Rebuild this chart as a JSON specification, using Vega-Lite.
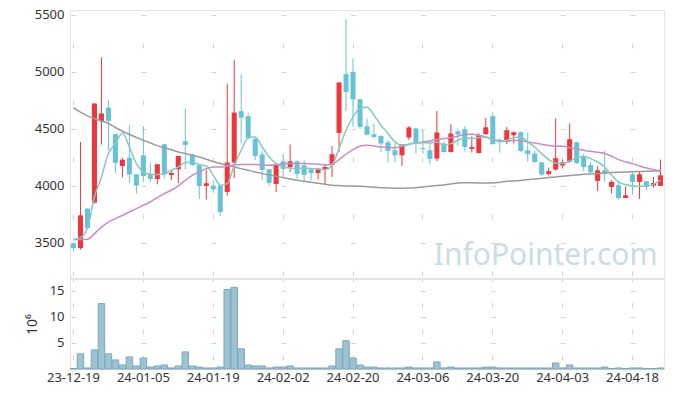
{
  "$schema": "https://vega.github.io/schema/vega-lite/v6.json",
  "background": "white",
  "padding": {"left": 24, "top": 8, "right": 5, "bottom": 5},
  "spacing": -3,
  "config": {
    "font": "Noto Sans",
    "view": {"stroke": "#e3e3e3"},
    "axis": {"labelFont": "Noto Sans", "labelFontSize": 13, "labelColor": "#333333", "titleFont": "Noto Sans", "gridColor": "#d4d4d4", "gridWidth": 1},
    "axisY": {"ticks": false, "domain": false, "labelPadding": 6, "grid": true, "gridDash": [5, 64.88], "gridDashOffset": 68.89, "format": "d"}
  },
  "datasets": {
    "k": [
      {"d":"23-12-19","o":3493,"h":3500,"l":3423,"c":3450,"v":0.1,"m5":3527,"m20":3525,"m60":4685},
      {"d":"23-12-20","o":3452,"h":4383,"l":3438,"c":3739,"v":2.9,"m5":3543,"m20":3527,"m60":4644},
      {"d":"23-12-21","o":3798,"h":3800,"l":3620,"c":3627,"v":0.2,"m5":3627,"m20":3530,"m60":4612},
      {"d":"23-12-22","o":3851,"h":4725,"l":3845,"c":4720,"v":3.65,"m5":3900,"m20":3578,"m60":4589},
      {"d":"23-12-26","o":4565,"h":5125,"l":4360,"c":4633,"v":12.5,"m5":4076,"m20":3636,"m60":4568},
      {"d":"23-12-27","o":4685,"h":4750,"l":4310,"c":4568,"v":2.9,"m5":4281,"m20":3680,"m60":4545},
      {"d":"23-12-28","o":4451,"h":4455,"l":4111,"c":4199,"v":1.73,"m5":4369,"m20":3710,"m60":4510},
      {"d":"24-01-02","o":4172,"h":4240,"l":4070,"c":4228,"v":0.77,"m5":4462,"m20":3739,"m60":4477},
      {"d":"24-01-03","o":4246,"h":4527,"l":4023,"c":4097,"v":2.3,"m5":4339,"m20":3768,"m60":4448},
      {"d":"24-01-04","o":4099,"h":4100,"l":3930,"c":4000,"v":0.58,"m5":4193,"m20":3798,"m60":4422},
      {"d":"24-01-05","o":4266,"h":4521,"l":4032,"c":4084,"v":2.1,"m5":4120,"m20":3827,"m60":4398},
      {"d":"24-01-08","o":4099,"h":4202,"l":4032,"c":4058,"v":0.38,"m5":4099,"m20":3856,"m60":4374},
      {"d":"24-01-09","o":4058,"h":4190,"l":4011,"c":4187,"v":0.58,"m5":4097,"m20":3895,"m60":4351},
      {"d":"24-01-10","o":4363,"h":4365,"l":4062,"c":4097,"v":0.77,"m5":4105,"m20":3930,"m60":4333},
      {"d":"24-01-11","o":4093,"h":4141,"l":4047,"c":4111,"v":0.2,"m5":4134,"m20":3959,"m60":4316},
      {"d":"24-01-12","o":4143,"h":4262,"l":4023,"c":4260,"v":0.58,"m5":4163,"m20":3997,"m60":4295},
      {"d":"24-01-15","o":4389,"h":4677,"l":4141,"c":4357,"v":3.27,"m5":4202,"m20":4047,"m60":4281},
      {"d":"24-01-16","o":4272,"h":4285,"l":4170,"c":4181,"v":0.58,"m5":4202,"m20":4090,"m60":4266},
      {"d":"24-01-17","o":4178,"h":4190,"l":3882,"c":3997,"v":0.38,"m5":4185,"m20":4120,"m60":4251},
      {"d":"24-01-18","o":3997,"h":4141,"l":3877,"c":4020,"v":0.2,"m5":4172,"m20":4149,"m60":4231},
      {"d":"24-01-19","o":4000,"h":4047,"l":3936,"c":3967,"v":0.2,"m5":4090,"m20":4163,"m60":4211},
      {"d":"24-01-22","o":4000,"h":4000,"l":3730,"c":3768,"v":0.38,"m5":4003,"m20":4163,"m60":4193},
      {"d":"24-01-23","o":3944,"h":4895,"l":3912,"c":4202,"v":15.2,"m5":4017,"m20":4172,"m60":4178},
      {"d":"24-01-24","o":4202,"h":5101,"l":4067,"c":4641,"v":15.6,"m5":4178,"m20":4181,"m60":4163},
      {"d":"24-01-25","o":4653,"h":4978,"l":4369,"c":4597,"v":3.85,"m5":4310,"m20":4185,"m60":4149},
      {"d":"24-01-26","o":4609,"h":4640,"l":4410,"c":4418,"v":0.77,"m5":4418,"m20":4185,"m60":4134},
      {"d":"24-01-29","o":4409,"h":4420,"l":4222,"c":4260,"v":0.58,"m5":4427,"m20":4185,"m60":4120},
      {"d":"24-01-30","o":4275,"h":4304,"l":4053,"c":4137,"v":0.58,"m5":4339,"m20":4181,"m60":4105},
      {"d":"24-01-31","o":4143,"h":4145,"l":4000,"c":4023,"v":0.2,"m5":4251,"m20":4178,"m60":4093},
      {"d":"24-02-01","o":4014,"h":4190,"l":3944,"c":4187,"v":0.38,"m5":4193,"m20":4185,"m60":4082},
      {"d":"24-02-02","o":4213,"h":4281,"l":4067,"c":4146,"v":0.38,"m5":4163,"m20":4193,"m60":4070},
      {"d":"24-02-05","o":4163,"h":4360,"l":4120,"c":4213,"v":0.58,"m5":4155,"m20":4193,"m60":4058},
      {"d":"24-02-06","o":4213,"h":4222,"l":4062,"c":4102,"v":0.2,"m5":4149,"m20":4193,"m60":4047},
      {"d":"24-02-07","o":4178,"h":4222,"l":4038,"c":4093,"v":0.2,"m5":4155,"m20":4193,"m60":4038},
      {"d":"24-02-08","o":4143,"h":4143,"l":4047,"c":4111,"v":0.2,"m5":4149,"m20":4190,"m60":4029},
      {"d":"24-02-13","o":4111,"h":4155,"l":4053,"c":4149,"v":0.2,"m5":4143,"m20":4187,"m60":4020},
      {"d":"24-02-14","o":4143,"h":4193,"l":4014,"c":4163,"v":0.2,"m5":4140,"m20":4181,"m60":4011},
      {"d":"24-02-15","o":4181,"h":4345,"l":4076,"c":4275,"v":0.58,"m5":4178,"m20":4187,"m60":4003},
      {"d":"24-02-16","o":4462,"h":4910,"l":4295,"c":4905,"v":3.85,"m5":4325,"m20":4228,"m60":4000},
      {"d":"24-02-19","o":4978,"h":5459,"l":4653,"c":4822,"v":5.4,"m5":4486,"m20":4275,"m60":3997},
      {"d":"24-02-20","o":4998,"h":5116,"l":4515,"c":4756,"v":2.1,"m5":4603,"m20":4316,"m60":3996},
      {"d":"24-02-21","o":4758,"h":4760,"l":4500,"c":4515,"v":0.77,"m5":4677,"m20":4345,"m60":3994},
      {"d":"24-02-22","o":4521,"h":4589,"l":4440,"c":4445,"v":0.38,"m5":4688,"m20":4354,"m60":3990},
      {"d":"24-02-23","o":4451,"h":4545,"l":4413,"c":4427,"v":0.38,"m5":4618,"m20":4348,"m60":3986},
      {"d":"24-02-26","o":4436,"h":4440,"l":4295,"c":4369,"v":0.2,"m5":4530,"m20":4339,"m60":3982},
      {"d":"24-02-27","o":4380,"h":4400,"l":4202,"c":4304,"v":0.2,"m5":4457,"m20":4336,"m60":3979},
      {"d":"24-02-28","o":4310,"h":4369,"l":4207,"c":4266,"v":0.2,"m5":4383,"m20":4333,"m60":3976},
      {"d":"24-02-29","o":4266,"h":4365,"l":4172,"c":4360,"v":0.2,"m5":4354,"m20":4345,"m60":3976},
      {"d":"24-03-04","o":4422,"h":4524,"l":4400,"c":4510,"v":0.38,"m5":4363,"m20":4363,"m60":3979},
      {"d":"24-03-05","o":4501,"h":4505,"l":4281,"c":4369,"v":0.2,"m5":4374,"m20":4374,"m60":3982},
      {"d":"24-03-06","o":4330,"h":4486,"l":4281,"c":4322,"v":0.2,"m5":4377,"m20":4383,"m60":3988},
      {"d":"24-03-07","o":4310,"h":4369,"l":4185,"c":4234,"v":0.2,"m5":4374,"m20":4392,"m60":3994},
      {"d":"24-03-08","o":4237,"h":4655,"l":4216,"c":4466,"v":1.35,"m5":4383,"m20":4404,"m60":4000},
      {"d":"24-03-11","o":4369,"h":4385,"l":4290,"c":4295,"v":0.2,"m5":4354,"m20":4413,"m60":4006},
      {"d":"24-03-12","o":4295,"h":4539,"l":4290,"c":4457,"v":0.38,"m5":4369,"m20":4421,"m60":4014},
      {"d":"24-03-13","o":4477,"h":4500,"l":4348,"c":4448,"v":0.2,"m5":4398,"m20":4433,"m60":4023},
      {"d":"24-03-14","o":4495,"h":4521,"l":4300,"c":4339,"v":0.2,"m5":4421,"m20":4448,"m60":4026},
      {"d":"24-03-15","o":4322,"h":4433,"l":4290,"c":4339,"v":0.2,"m5":4413,"m20":4451,"m60":4024},
      {"d":"24-03-18","o":4286,"h":4460,"l":4280,"c":4442,"v":0.2,"m5":4421,"m20":4442,"m60":4023},
      {"d":"24-03-19","o":4451,"h":4594,"l":4445,"c":4512,"v":0.38,"m5":4427,"m20":4427,"m60":4023},
      {"d":"24-03-20","o":4609,"h":4641,"l":4363,"c":4363,"v":0.38,"m5":4404,"m20":4404,"m60":4023},
      {"d":"24-03-21","o":4404,"h":4413,"l":4290,"c":4380,"v":0.2,"m5":4392,"m20":4392,"m60":4029},
      {"d":"24-03-22","o":4383,"h":4515,"l":4363,"c":4486,"v":0.2,"m5":4398,"m20":4389,"m60":4038},
      {"d":"24-03-25","o":4442,"h":4475,"l":4369,"c":4468,"v":0.2,"m5":4421,"m20":4398,"m60":4041},
      {"d":"24-03-26","o":4468,"h":4475,"l":4293,"c":4304,"v":0.2,"m5":4427,"m20":4392,"m60":4044},
      {"d":"24-03-27","o":4310,"h":4466,"l":4211,"c":4275,"v":0.2,"m5":4383,"m20":4383,"m60":4053},
      {"d":"24-03-28","o":4281,"h":4310,"l":4200,"c":4207,"v":0.2,"m5":4339,"m20":4374,"m60":4058},
      {"d":"24-03-29","o":4205,"h":4205,"l":4085,"c":4097,"v":0.2,"m5":4281,"m20":4363,"m60":4064},
      {"d":"24-04-01","o":4102,"h":4158,"l":4088,"c":4126,"v":0.2,"m5":4228,"m20":4351,"m60":4070},
      {"d":"24-04-02","o":4141,"h":4591,"l":4130,"c":4240,"v":1.15,"m5":4199,"m20":4345,"m60":4076},
      {"d":"24-04-03","o":4176,"h":4230,"l":4149,"c":4205,"v":0.2,"m5":4193,"m20":4345,"m60":4082},
      {"d":"24-04-04","o":4211,"h":4545,"l":4200,"c":4407,"v":0.77,"m5":4216,"m20":4333,"m60":4088},
      {"d":"24-04-05","o":4380,"h":4385,"l":4190,"c":4199,"v":0.2,"m5":4243,"m20":4322,"m60":4093},
      {"d":"24-04-08","o":4257,"h":4281,"l":4129,"c":4163,"v":0.2,"m5":4257,"m20":4310,"m60":4099},
      {"d":"24-04-09","o":4181,"h":4210,"l":4100,"c":4117,"v":0.2,"m5":4237,"m20":4301,"m60":4102},
      {"d":"24-04-11","o":4041,"h":4170,"l":3953,"c":4134,"v":0.2,"m5":4207,"m20":4293,"m60":4105},
      {"d":"24-04-12","o":4134,"h":4304,"l":4032,"c":4105,"v":0.38,"m5":4163,"m20":4281,"m60":4111},
      {"d":"24-04-15","o":3988,"h":4050,"l":3930,"c":4032,"v":0.1,"m5":4091,"m20":4257,"m60":4114},
      {"d":"24-04-16","o":4003,"h":4040,"l":3880,"c":3891,"v":0.2,"m5":4032,"m20":4228,"m60":4117},
      {"d":"24-04-17","o":3891,"h":3994,"l":3891,"c":3915,"v":0.1,"m5":4009,"m20":4207,"m60":4120},
      {"d":"24-04-18","o":4099,"h":4130,"l":3921,"c":4032,"v":0.2,"m5":3997,"m20":4193,"m60":4121},
      {"d":"24-04-19","o":4032,"h":4120,"l":3882,"c":4099,"v":0.2,"m5":3994,"m20":4172,"m60":4123},
      {"d":"24-04-22","o":4038,"h":4040,"l":3960,"c":3994,"v":0.1,"m5":3994,"m20":4155,"m60":4126},
      {"d":"24-04-23","o":4000,"h":4076,"l":3982,"c":4023,"v":0.1,"m5":4011,"m20":4141,"m60":4127},
      {"d":"24-04-24","o":3997,"h":4228,"l":3997,"c":4090,"v":0.2,"m5":4047,"m20":4126,"m60":4129}
    ]
  },
  "vconcat": [
    {
      "width": 594,
      "height": 268,
      "data": {"name": "k"},
      "encoding": {
        "x": {
          "field": "d", "type": "ordinal", "sort": null,
          "scale": {"type": "band", "paddingInner": 0, "paddingOuter": 0},
          "axis": {
            "title": null, "labels": false, "ticks": false, "domain": false,
            "minExtent": 0, "maxExtent": 0, "offset": 0,
            "values": ["23-12-19","24-01-05","24-01-19","24-02-02","24-02-20","24-03-06","24-03-20","24-04-03","24-04-18"],
            "grid": true, "gridDash": [5, 51.97], "gridDashOffset": 24.03
          }
        }
      },
      "layer": [
        {
          "mark": {"type": "rule", "strokeWidth": 1},
          "encoding": {
            "y": {
              "field": "l", "type": "quantitative", "title": null,
              "scale": {"domain": [3189, 5541], "nice": false, "zero": false},
              "axis": {"values": [3500, 4000, 4500, 5000, 5500]}
            },
            "y2": {"field": "h"},
            "color": {"condition": {"test": "datum.c > datum.o", "value": "#ee363c"}, "value": "#66c2d9"}
          }
        },
        {
          "mark": {"type": "bar", "width": {"band": 0.72}},
          "encoding": {
            "y": {"field": "o", "type": "quantitative", "title": null},
            "y2": {"field": "c"},
            "color": {"condition": {"test": "datum.c > datum.o", "value": "#ee363c"}, "value": "#66c2d9"}
          }
        },
        {
          "mark": {"type": "line", "color": "#9a9a9a", "strokeWidth": 1.5, "interpolate": "monotone"},
          "encoding": {"y": {"field": "m60", "type": "quantitative", "title": null}}
        },
        {
          "mark": {"type": "line", "color": "#c98bc6", "strokeWidth": 1.5, "interpolate": "monotone"},
          "encoding": {"y": {"field": "m20", "type": "quantitative", "title": null}}
        },
        {
          "mark": {"type": "line", "color": "#86c8bc", "strokeWidth": 1.5, "interpolate": "monotone"},
          "encoding": {"y": {"field": "m5", "type": "quantitative", "title": null}}
        },
        {
          "transform": [{"filter": "datum.d == '24-04-24'"}],
          "mark": {"type": "text", "font": "Noto Sans", "fontSize": 30, "color": "#c9dce7", "align": "right", "baseline": "alphabetic", "dx": -3, "text": "InfoPointer.com"},
          "encoding": {
            "y": {"datum": 3300, "type": "quantitative"}
          }
        }
      ]
    },
    {
      "width": 594,
      "height": 90,
      "data": {"name": "k"},
      "mark": {"type": "bar", "width": {"band": 0.93}, "fill": "#9dc2d2", "stroke": "#7ca8bc", "strokeWidth": 1},
      "encoding": {
        "x": {
          "field": "d", "type": "ordinal", "sort": null,
          "scale": {"type": "band", "paddingInner": 0, "paddingOuter": 0},
          "axis": {
            "title": null, "ticks": false, "domain": false, "labelAngle": 0, "labelPadding": 2,
            "values": ["23-12-19","24-01-05","24-01-19","24-02-02","24-02-20","24-03-06","24-03-20","24-04-03","24-04-18"],
            "grid": true, "gridDash": [5, 21.16], "gridDashOffset": 2.5
          }
        },
        "y": {
          "field": "v", "type": "quantitative",
          "scale": {"domain": [0, 17.2], "nice": false},
          "axis": {
            "title": "10⁶", "titleFontSize": 14, "titleFontWeight": "normal", "titleColor": "#333333", "titlePadding": 10,
            "values": [5, 10, 15]
          }
        }
      }
    }
  ]
}
